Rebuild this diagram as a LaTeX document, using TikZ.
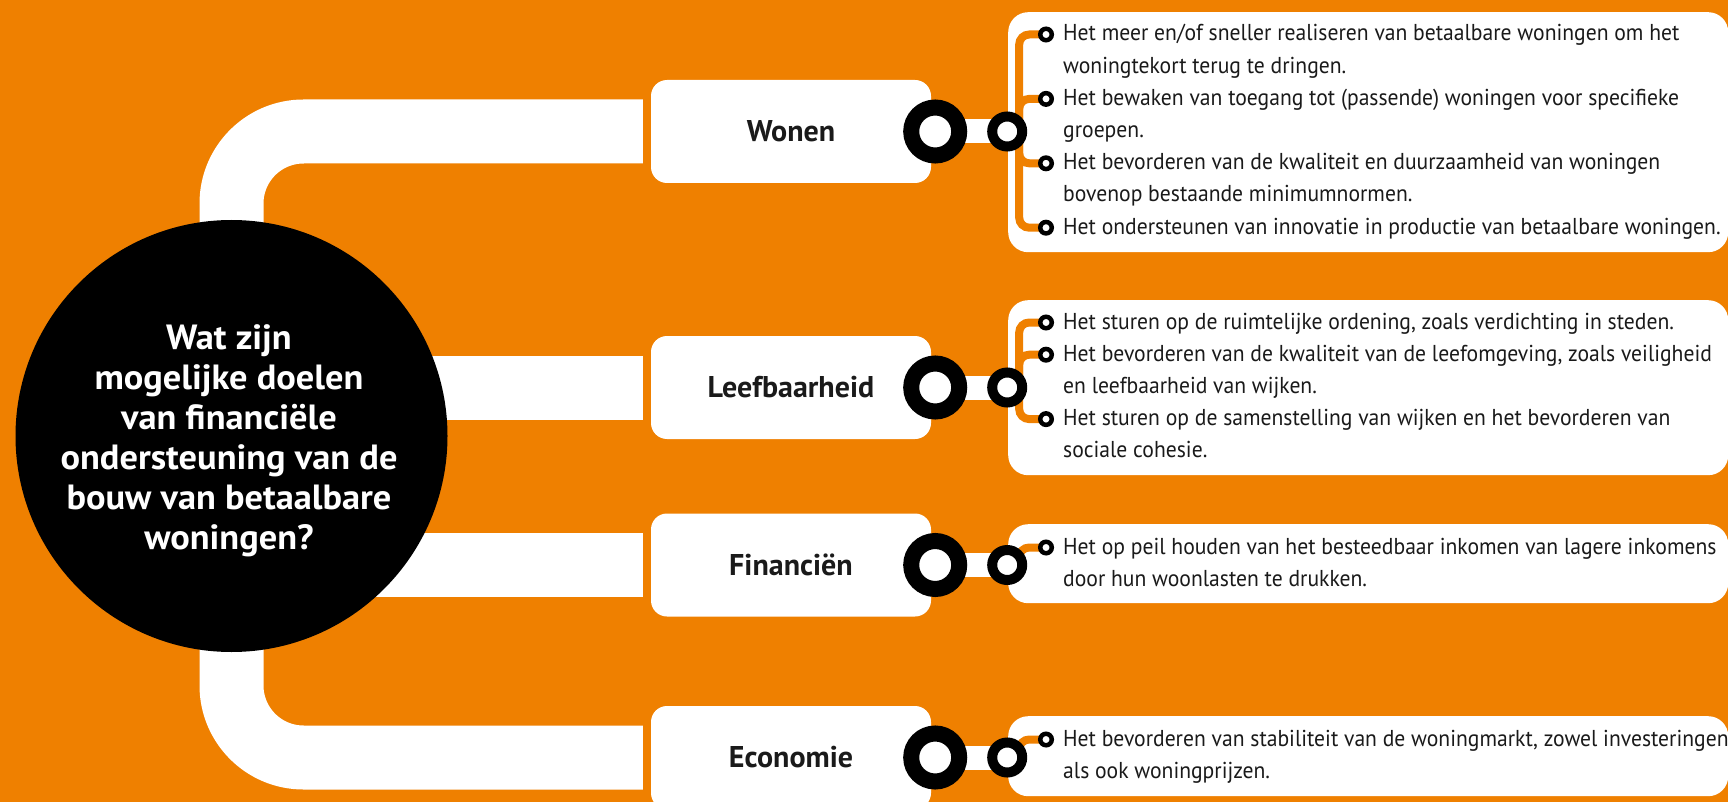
\documentclass[tikz,border=0pt]{standalone}
\usepackage{fontspec}
\setmainfont{PT Sans}[FakeStretch=0.94]
\newfontfamily\labelfont{PT Sans Bold}
\newfontfamily\qfont{PT Sans Bold}[FakeStretch=1.04]
\definecolor{bg}{HTML}{EF8000}
\definecolor{ink}{HTML}{1A1A1A}
\newcommand\itm[1]{\vtop{\baselineskip=32.2pt\lineskiplimit=-50pt\halign{##\hfil\cr#1\crcr}}}
\newcommand\ctext[1]{\vtop{\baselineskip=40pt\lineskiplimit=-50pt\halign{\hfil##\hfil\cr#1\crcr}}}
\tikzset{
  tube/.style={white, line width=64pt},
  catbox/.style={rectangle, fill=white, rounded corners=16pt, minimum width=280pt, minimum height=103pt, inner sep=0pt, font=\fontsize{30}{36}\selectfont\labelfont, text=ink},
  panel/.style={rectangle, fill=white, rounded corners=20pt, inner sep=0pt, anchor=north west, minimum width=720pt},
  bigring/.style={circle, draw=black, line width=16pt, fill=white, minimum size=48pt, inner sep=0pt},
  smallring/.style={circle, draw=black, line width=10pt, fill=white, minimum size=30pt, inner sep=0pt},
  bulletring/.style={circle, draw=black, line width=4.5pt, fill=white, minimum size=11.5pt, inner sep=0pt},
  bracket/.style={bg, line width=8pt, rounded corners=10pt},
  link/.style={white, line width=24pt},
  itemtext/.style={anchor=base west, inner sep=0pt, font=\fontsize{23}{32.2}\selectfont, text=ink},
}
\begin{document}
\begin{tikzpicture}[x=1pt,y=-1pt]
\fill[bg] (0,0) rectangle (1728,802);
\useasboundingbox (0,0) rectangle (1728,802);

% category boxes
\node[catbox] (w) at (791,131.5) {Wonen};
\node[catbox] (l) at (791,387.5) {Leefbaarheid};
\node[catbox] (f) at (791,565) {Financiën};
\node[catbox] (e) at (791,757.5) {Economie};

% central circle
\coordinate (qc) at (231.5,436);

% tubes
\draw[tube, rounded corners=72pt] ([xshift=-8pt]w.west) -| (qc) |- ([xshift=-8pt]e.west);
\draw[tube] (qc |- l.west) -- ([xshift=-8pt]l.west);
\draw[tube] (qc |- f.west) -- ([xshift=-8pt]f.west);

\node[circle, fill=black, minimum size=432pt, inner sep=0pt] (q) at (qc) {};
\node[anchor=base, inner sep=0pt, text=white, font=\fontsize{35}{40}\selectfont\qfont] (qt) at (229,349)
  {\ctext{Wat zijn\cr mogelijke doelen\cr van financiële\cr ondersteuning van de\cr bouw van betaalbare\cr woningen?}};

% panels
\node[panel, minimum height=240pt] (pw) at (1008,12) {};
\node[panel, minimum height=175pt] (pl) at (1008,300) {};
\node[panel, minimum height=79pt] (pf) at (1008,524) {};
\node[panel, minimum height=80pt] (pe) at (1008,716) {};

% texts
\node[itemtext] (t11) at (1063,41) {\itm{Het meer en/of sneller realiseren van betaalbare woningen om het\cr woningtekort terug te dringen.}};
\node[itemtext] (t12) at (1063,105.4) {\itm{Het bewaken van toegang tot (passende) woningen voor specifieke\cr groepen.}};
\node[itemtext] (t13) at (1063,169.8) {\itm{Het bevorderen van de kwaliteit en duurzaamheid van woningen\cr bovenop bestaande minimumnormen.}};
\node[itemtext] (t14) at (1063,234.2) {\itm{Het ondersteunen van innovatie in productie van betaalbare woningen.}};

\node[itemtext] (t21) at (1063,329) {\itm{Het sturen op de ruimtelijke ordening, zoals verdichting in steden.}};
\node[itemtext] (t22) at (1063,361.2) {\itm{Het bevorderen van de kwaliteit van de leefomgeving, zoals veiligheid\cr en leefbaarheid van wijken.}};
\node[itemtext] (t23) at (1063,425.6) {\itm{Het sturen op de samenstelling van wijken en het bevorderen van\cr sociale cohesie.}};

\node[itemtext] (t31) at (1063,554) {\itm{Het op peil houden van het besteedbaar inkomen van lagere inkomens\cr door hun woonlasten te drukken.}};

\node[itemtext] (t41) at (1063,746) {\itm{Het bevorderen van stabiliteit van de woningmarkt, zowel investeringen\cr als ook woningprijzen.}};

% ring positions
\coordinate (rw) at ([xshift=4pt]w.east);
\coordinate (rl) at ([xshift=4pt]l.east);
\coordinate (rf) at ([xshift=4pt]f.east);
\coordinate (re) at ([xshift=4pt]e.east);
\coordinate (sw) at ([xshift=76pt]w.east);
\coordinate (sl) at ([xshift=76pt]l.east);
\coordinate (sf) at ([xshift=76pt]f.east);
\coordinate (se) at ([xshift=76pt]e.east);

% bullet positions
\foreach \t in {11,12,13,14,21,22,23,31,41}{
  \coordinate (b\t) at ([xshift=-17pt,yshift=6.5pt]t\t.base west);
}

% brackets
\foreach \s/\t in {w/11,w/12,w/13,w/14,l/21,l/22,l/23,f/31,e/41}{
  \draw[bracket] ([xshift=12pt]s\s) |- (b\t);
}

% links between rings
\foreach \s in {w,l,f,e}{
  \draw[link] (r\s) -- (s\s);
}

% rings
\foreach \s in {w,l,f,e}{
  \node[bigring] (R\s) at (r\s) {};
  \node[smallring] (S\s) at (s\s) {};
}

% bullets
\foreach \t in {11,12,13,14,21,22,23,31,41}{
  \node[bulletring] (B\t) at (b\t) {};
}
\end{tikzpicture}
\end{document}
